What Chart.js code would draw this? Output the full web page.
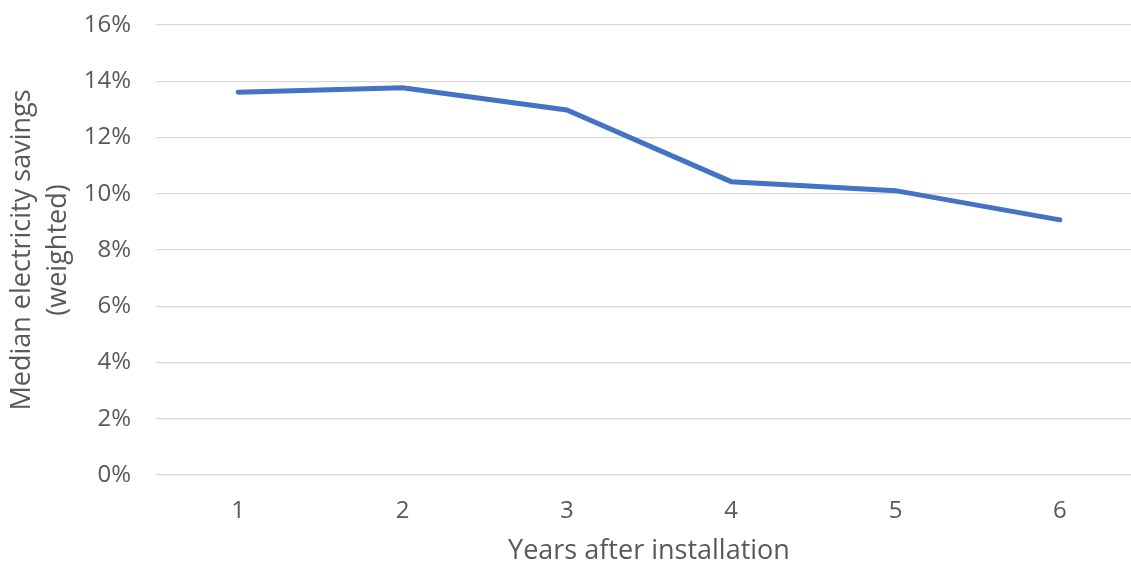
<!DOCTYPE html>
<html>
<head>
<meta charset="utf-8">
<script src="https://cdn.jsdelivr.net/npm/chart.js@4"></script>
<style>
  html, body { margin: 0; padding: 0; background: #fff; overflow: hidden; }
  #wrap { width: 1131px; height: 565px; overflow: hidden; }
</style>
</head>
<body>
<div id="wrap"><canvas id="myChart" width="1142" height="565"></canvas></div>
<script>
var years = ['1', '2', '3', '4', '5', '6'];
var savings = [13.61, 13.77, 12.98, 10.43, 10.11, 9.07];
var yTitle = ['Median electricity savings', '(weighted)'];
var xTitle = 'Years after installation';

var textColor = '#595959';
var ctx = document.getElementById('myChart').getContext('2d');

var myChart = new Chart(ctx, {
    type: 'line',
    data: {
        labels: years,
        datasets: [{
            label: 'Median electricity savings',
            data: savings,
            borderColor: '#4472C4',
            backgroundColor: '#4472C4',
            borderWidth: 5,
            borderCapStyle: 'round',
            pointRadius: 0,
            tension: 0
        }]
    },
    options: {
      responsive: false,
      animation: false,
      layout: { padding: { top: 25, left: 0, right: 0, bottom: 0 } },
      plugins: {
        legend: { display: false },
        tooltip: { enabled: false }
      },
      scales: {
        x: {
          offset: true,
          grid: { display: false },
          border: { display: false },
          ticks: { color: textColor, font: { family: 'Open Sans', size: 24 }, padding: 14 },
          title: { display: true, text: xTitle, color: textColor,
                   font: { family: 'Open Sans', size: 27, lineHeight: 1 }, padding: 0 },
          afterFit: function(s) { s.height = 90; }
        },
        y: {
          min: 0,
          max: 16,
          grid: { color: '#d9d9d9', lineWidth: 1.3, drawTicks: false },
          border: { display: false },
          ticks: { stepSize: 2, color: textColor, padding: 25,
                   font: { family: 'Open Sans', size: 24 },
                   callback: function(v) { return v + '%'; } },
          title: { display: true, text: yTitle, color: textColor,
                   font: { family: 'Open Sans', size: 27, lineHeight: 1.333 }, padding: { top: 4 } },
          afterFit: function(s) {
            s.width = 156;
            s.paddingTop = 0;
            s.paddingBottom = 0;
          }
        }
      }
    }
});
</script>
</body>
</html>
